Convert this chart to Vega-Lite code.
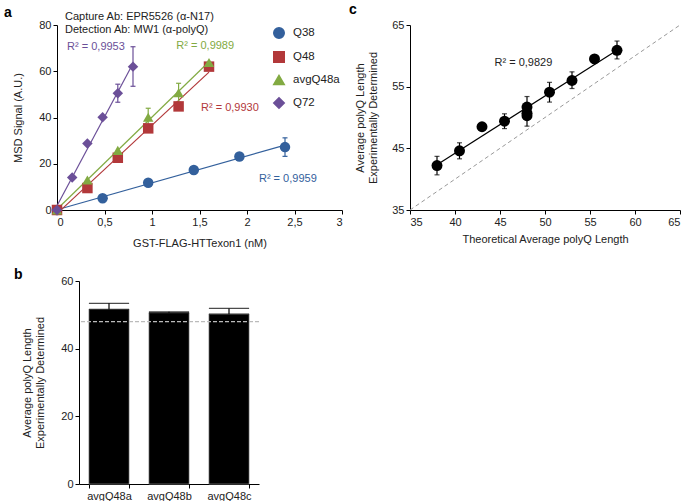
{
  "$schema": "https://vega.github.io/schema/vega-lite/v6.json",
  "padding": {"left": 4, "top": 3, "right": 0, "bottom": 0},
  "background": "#ffffff",
  "config": {
    "font": "Liberation Sans",
    "view": {"stroke": null},
    "legend": {"symbolOpacity": 1},
    "axis": {"grid": false, "domainColor": "#000000", "tickColor": "#000000", "labelColor": "#222222", "labelFontSize": 11, "titleFontSize": 11, "titleFontWeight": "normal", "titleColor": "#222222", "tickSize": 4, "labelFont": "Liberation Sans", "titleFont": "Liberation Sans"},
    "title": {"anchor": "start", "frame": "group", "fontSize": 14, "fontWeight": "bold", "color": "#000000", "font": "Liberation Sans"}
  },
  "datasets": {
    "curves": [
      {"series": "Q38", "x": 0, "y": 0},
      {"series": "Q38", "x": 0.48, "y": 5.1},
      {"series": "Q38", "x": 0.96, "y": 11.8},
      {"series": "Q38", "x": 1.44, "y": 17.3},
      {"series": "Q38", "x": 1.92, "y": 23.1},
      {"series": "Q38", "x": 2.4, "y": 27.2, "lo": 23.2, "hi": 31.2},
      {"series": "Q48", "x": 0, "y": 0},
      {"series": "Q48", "x": 0.32, "y": 9.5},
      {"series": "Q48", "x": 0.64, "y": 22.6},
      {"series": "Q48", "x": 0.96, "y": 35.3},
      {"series": "Q48", "x": 1.28, "y": 44.8},
      {"series": "Q48", "x": 1.6, "y": 62.0},
      {"series": "avgQ48a", "x": 0, "y": 0},
      {"series": "avgQ48a", "x": 0.32, "y": 13.0},
      {"series": "avgQ48a", "x": 0.64, "y": 25.8},
      {"series": "avgQ48a", "x": 0.96, "y": 40.1, "lo": 36.2, "hi": 44.0},
      {"series": "avgQ48a", "x": 1.28, "y": 50.7, "lo": 46.6, "hi": 54.8},
      {"series": "avgQ48a", "x": 1.6, "y": 63.8},
      {"series": "Q72", "x": 0, "y": 0},
      {"series": "Q72", "x": 0.16, "y": 14.1},
      {"series": "Q72", "x": 0.32, "y": 28.8},
      {"series": "Q72", "x": 0.48, "y": 40.1},
      {"series": "Q72", "x": 0.64, "y": 50.5, "lo": 46.6, "hi": 54.4},
      {"series": "Q72", "x": 0.8, "y": 62.0, "lo": 53.5, "hi": 70.6}
    ],
    "alabels": [
      {"series": "Q72", "x": 0.41, "y": 70.6, "label": "R² = 0,9953"},
      {"series": "avgQ48a", "x": 1.56, "y": 70.9, "label": "R² = 0,9989"},
      {"series": "Q48", "x": 1.82, "y": 44.0, "label": "R² = 0,9930"},
      {"series": "Q38", "x": 2.43, "y": 13.4, "label": "R² = 0,9959"}
    ],
    "captions": [
      {"x": 0.084, "y": 83.5, "label": "Capture  Ab:  EPR5526  (α-N17)"},
      {"x": 0.084, "y": 77.9, "label": "Detection  Ab:  MW1  (α-polyQ)"}
    ],
    "cpts": [
      {"x": 38, "y": 42.2, "lo": 40.7, "hi": 43.7},
      {"x": 40.5, "y": 44.6, "lo": 43.3, "hi": 45.9},
      {"x": 43, "y": 48.5},
      {"x": 45.5, "y": 49.4, "lo": 48.2, "hi": 50.6},
      {"x": 48, "y": 51.7, "lo": 50.0, "hi": 53.4},
      {"x": 48, "y": 50.7, "lo": 50.5, "hi": 50.9},
      {"x": 48, "y": 50.3, "lo": 48.6, "hi": 52.0},
      {"x": 50.5, "y": 54.1, "lo": 52.5, "hi": 55.7},
      {"x": 53, "y": 56.0, "lo": 54.7, "hi": 57.4},
      {"x": 55.5, "y": 59.5},
      {"x": 58, "y": 60.9, "lo": 59.5, "hi": 62.4}
    ],
    "diag": [{"x": 35, "y": 35}, {"x": 65, "y": 65}],
    "clabel": [{"x": 47.6, "y": 58.8, "label": "R² = 0,9829"}],
    "bars": [
      {"sample": "avgQ48a", "value": 51.6, "hi": 53.4},
      {"sample": "avgQ48b", "value": 50.6, "hi": 50.9},
      {"sample": "avgQ48c", "value": 50.2, "hi": 51.9}
    ]
  },
  "spacing": 20,
  "vconcat": [
    {
      "bounds": "flush",
      "spacing": 68,
      "hconcat": [
        {
          "width": 285,
          "height": 185,
          "title": {"text": "a", "dx": -53, "offset": -9},
          "layer": [
            {
              "data": {"name": "curves"},
              "transform": [{"regression": "y", "on": "x", "groupby": ["series"]}],
              "mark": {"type": "line", "strokeWidth": 1.2, "opacity": 1},
              "encoding": {
                "x": {"field": "x", "type": "quantitative", "title": "GST-FLAG-HTTexon1  (nM)", "scale": {"domain": [0, 3], "nice": false, "padding": 0}, "axis": {"values": [0, 0.5, 1, 1.5, 2, 2.5, 3], "format": "~g", "labelExpr": "replace(datum.label, '.', ',')", "titlePadding": 10}},
                "y": {"field": "y", "type": "quantitative", "title": "MSD Signal (A.U.)", "scale": {"domain": [0, 80], "nice": false, "padding": 0}, "axis": {"values": [0, 10, 20, 30, 40, 50, 60, 70, 80], "titlePadding": 15}},
                "color": {"field": "series", "type": "nominal", "scale": {"domain": ["Q38", "Q48", "avgQ48a", "Q72"], "range": ["#33609c", "#b2383a", "#82aa42", "#6b4f98"]}}
              }
            },
            {
              "data": {"name": "curves"},
              "transform": [{"filter": "datum.hi != null"}],
              "mark": {"type": "errorbar", "ticks": true, "thickness": 1.2, "opacity": 1},
              "encoding": {
                "x": {"field": "x", "type": "quantitative", "title": "GST-FLAG-HTTexon1  (nM)"},
                "y": {"field": "lo", "type": "quantitative", "title": "MSD Signal (A.U.)"},
                "y2": {"field": "hi"},
                "color": {"field": "series", "type": "nominal"}
              }
            },
            {
              "data": {"name": "curves"},
              "mark": {"type": "point", "filled": true, "opacity": 1, "size": 110},
              "encoding": {
                "x": {"field": "x", "type": "quantitative", "title": "GST-FLAG-HTTexon1  (nM)"},
                "y": {"field": "y", "type": "quantitative", "title": "MSD Signal (A.U.)"},
                "color": {"field": "series", "type": "nominal", "legend": {"orient": "none", "legendX": 216, "legendY": 2, "title": null, "symbolSize": 110, "symbolOpacity": 1, "labelFontSize": 11.5, "rowPadding": 6, "labelOffset": 8, "labelColor": "#222222"}},
                "shape": {"field": "series", "type": "nominal", "scale": {"domain": ["Q38", "Q48", "avgQ48a", "Q72"], "range": ["circle", "square", "triangle-up", "diamond"]}, "legend": {"orient": "none", "legendX": 216, "legendY": 2, "title": null, "symbolSize": 110, "symbolOpacity": 1, "labelFontSize": 11.5, "rowPadding": 6, "labelOffset": 8, "labelColor": "#222222"}}
              }
            },
            {
              "data": {"name": "alabels"},
              "mark": {"type": "text", "fontSize": 11, "opacity": 1},
              "encoding": {
                "x": {"field": "x", "type": "quantitative", "title": "GST-FLAG-HTTexon1  (nM)"},
                "y": {"field": "y", "type": "quantitative", "title": "MSD Signal (A.U.)"},
                "text": {"field": "label"},
                "color": {"field": "series", "type": "nominal"}
              }
            },
            {
              "data": {"name": "captions"},
              "mark": {"type": "text", "fontSize": 11, "align": "left", "color": "#222222"},
              "encoding": {
                "x": {"field": "x", "type": "quantitative", "title": "GST-FLAG-HTTexon1  (nM)"},
                "y": {"field": "y", "type": "quantitative", "title": "MSD Signal (A.U.)"},
                "text": {"field": "label"}
              }
            }
          ]
        },
        {
          "width": 270,
          "height": 185,
          "title": {"text": "c", "dx": -61, "offset": 2},
          "layer": [
            {
              "data": {"name": "diag"},
              "mark": {"type": "line", "color": "#999999", "strokeDash": [4, 3], "strokeWidth": 1},
              "encoding": {
                "x": {"field": "x", "type": "quantitative", "title": "Theoretical  Average  polyQ  Length", "scale": {"domain": [35, 65], "nice": false, "padding": 0}, "axis": {"values": [35, 40, 45, 50, 55, 60, 65], "titlePadding": 6}},
                "y": {"field": "y", "type": "quantitative", "title": ["Average polyQ Length", "Experimentally Determined"], "scale": {"domain": [35, 65], "nice": false, "padding": 0}, "axis": {"values": [35, 40, 45, 50, 55, 60, 65], "titlePadding": 13}}
              }
            },
            {
              "data": {"name": "cpts"},
              "transform": [{"regression": "y", "on": "x"}],
              "mark": {"type": "line", "color": "#000000", "strokeWidth": 1.2},
              "encoding": {
                "x": {"field": "x", "type": "quantitative", "title": "Theoretical  Average  polyQ  Length"},
                "y": {"field": "y", "type": "quantitative", "title": ["Average polyQ Length", "Experimentally Determined"]}
              }
            },
            {
              "data": {"name": "cpts"},
              "transform": [{"filter": "datum.hi != null"}],
              "mark": {"type": "errorbar", "ticks": true, "thickness": 1.2, "color": "#000000"},
              "encoding": {
                "x": {"field": "x", "type": "quantitative", "title": "Theoretical  Average  polyQ  Length"},
                "y": {"field": "lo", "type": "quantitative", "title": ["Average polyQ Length", "Experimentally Determined"]},
                "y2": {"field": "hi"}
              }
            },
            {
              "data": {"name": "cpts"},
              "mark": {"type": "point", "filled": true, "opacity": 1, "size": 120, "color": "#000000"},
              "encoding": {
                "x": {"field": "x", "type": "quantitative", "title": "Theoretical  Average  polyQ  Length"},
                "y": {"field": "y", "type": "quantitative", "title": ["Average polyQ Length", "Experimentally Determined"]}
              }
            },
            {
              "data": {"name": "clabel"},
              "mark": {"type": "text", "fontSize": 11, "color": "#222222"},
              "encoding": {
                "x": {"field": "x", "type": "quantitative", "title": "Theoretical  Average  polyQ  Length"},
                "y": {"field": "y", "type": "quantitative", "title": ["Average polyQ Length", "Experimentally Determined"]},
                "text": {"field": "label"}
              }
            }
          ]
        }
      ]
    },
    {
      "bounds": "flush",
      "spacing": 21,
      "hconcat": [
        {
          "width": 1,
          "height": 203,
          "data": {"values": []},
          "mark": "point"
        },
        {
          "width": 180,
          "height": 203,
          "title": {"text": "b", "dx": -65, "offset": -7},
          "data": {"name": "bars"},
          "layer": [
            {
              "mark": {"type": "bar", "color": "#000000", "stroke": "#999999", "strokeWidth": 0.6},
              "encoding": {
                "x": {"field": "sample", "type": "nominal", "sort": null, "title": null, "scale": {"paddingInner": 0.33, "paddingOuter": 0.165}, "axis": {"labelAngle": 0, "tickBand": "extent", "labelFontSize": 11}},
                "y": {"field": "value", "type": "quantitative", "title": ["Average polyQ Length", "Experimentally Determined"], "scale": {"domain": [0, 60], "nice": false}, "axis": {"values": [0, 10, 20, 30, 40, 50, 60], "titlePadding": 15}}
              }
            },
            {
              "mark": {"type": "errorbar", "ticks": true, "thickness": 1.2, "color": "#000000"},
              "encoding": {
                "x": {"field": "sample", "type": "nominal", "sort": null, "title": null},
                "y": {"field": "value", "type": "quantitative", "title": ["Average polyQ Length", "Experimentally Determined"]},
                "y2": {"field": "hi"}
              }
            },
            {
              "mark": {"type": "rule", "color": "#bbbbbb", "strokeDash": [4, 2], "strokeWidth": 1},
              "encoding": {"y": {"datum": 48, "title": ["Average polyQ Length", "Experimentally Determined"]}}
            }
          ]
        }
      ]
    }
  ]
}
